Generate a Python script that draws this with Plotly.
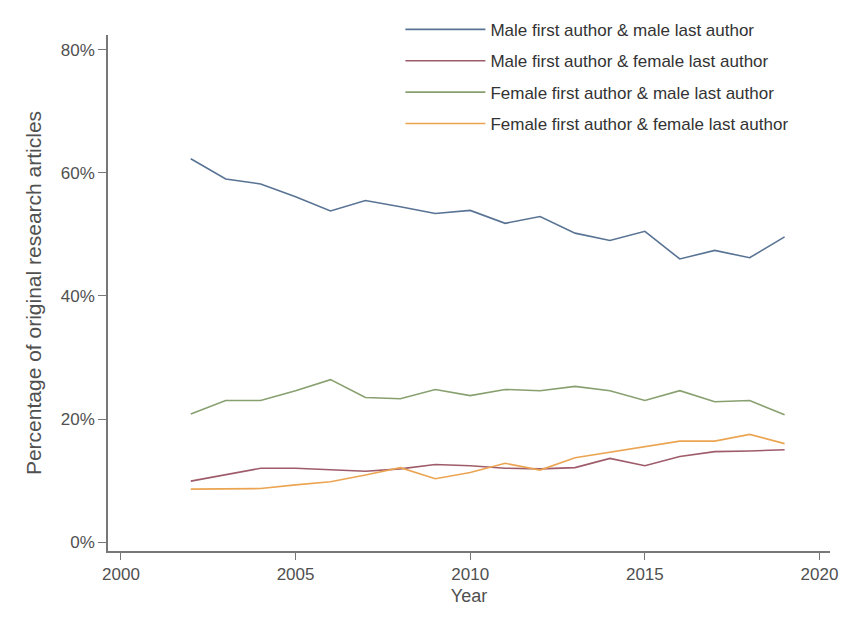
import plotly.graph_objects as go

years = list(range(2002, 2020))
mm = [62.3, 59.0, 58.2, 56.1, 53.8, 55.5, 54.5, 53.4, 53.9, 51.8, 52.9, 50.2, 49.0, 50.5, 46.0, 47.4, 46.2, 49.6]
mf = [9.9, 10.9, 12.0, 12.0, 11.7, 11.5, 11.9, 12.6, 12.4, 12.0, 11.9, 12.1, 13.6, 12.4, 13.9, 14.7, 14.8, 15.0]
fm = [20.8, 23.0, 23.0, 24.6, 26.4, 23.5, 23.3, 24.8, 23.8, 24.8, 24.6, 25.3, 24.6, 23.0, 24.6, 22.8, 23.0, 20.7]
ff = [8.6, 8.7, 8.7, 9.3, 9.8, 10.9, 12.1, 10.3, 11.3, 12.8, 11.7, 13.7, 14.6, 15.5, 16.4, 16.4, 17.5, 16.0]

names = ["Male first author & male last author",
         "Male first author & female last author",
         "Female first author & male last author",
         "Female first author & female last author"]
series = [mm, mf, fm, ff]
colors = ["#587394", "#9e5c6a", "#88a06f", "#eba552"]

x_ticks = [2000, 2005, 2010, 2015, 2020]
y_ticks = [0, 20, 40, 60, 80]
y_labels = ["0%", "20%", "40%", "60%", "80%"]

FONT = "Liberation Sans, Arial, sans-serif"

fig = go.Figure()
for i, (n, s, c) in enumerate(zip(names, series, colors)):
    fig.add_trace(go.Scatter(x=years, y=s, mode="lines", name=n,
                             line=dict(color=c, width=1.6), legendgroup=str(i)))

fig.update_layout(
    width=856, height=620,
    margin=dict(l=108, r=26, t=30, b=69),
    paper_bgcolor="white", plot_bgcolor="white",
    font=dict(family=FONT, size=17, color="#505050"),
    showlegend=True,
    legend=dict(x=0.405, y=1.045, xanchor="left", yanchor="top",
                bgcolor="rgba(0,0,0,0)", font=dict(size=17, color="#333"),
                itemwidth=80, tracegroupgap=6.3, traceorder="grouped"),
)
fig.update_xaxes(range=[1999.63, 2020.3], tickvals=x_ticks, ticks="outside", ticklen=7,
                 tickcolor="#777", showline=True, linecolor="#777", linewidth=1.5,
                 showgrid=False, zeroline=False, tickfont=dict(size=17),
                 title=dict(text="Year", standoff=6, font=dict(size=18, color="#505050")))
fig.update_yaxes(range=[-1.45, 82.4], tickvals=y_ticks, ticktext=y_labels, ticks="outside",
                 ticklen=8, tickcolor="#777", showline=True, linecolor="#777", linewidth=1.5,
                 showgrid=False, zeroline=False, tickfont=dict(size=17),
                 title=dict(text="Percentage of original research articles", standoff=13,
                            font=dict(size=21, color="#505050")))

fig.write_html("out.html")
